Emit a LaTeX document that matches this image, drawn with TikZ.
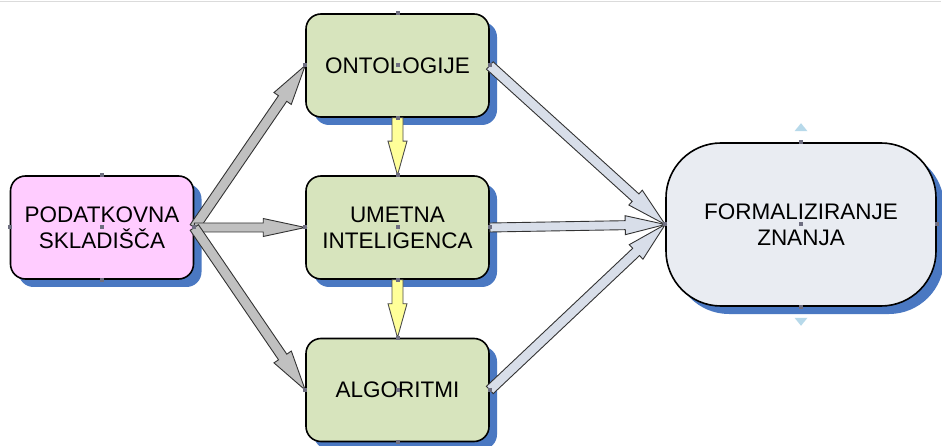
\documentclass[tikz,border=0pt]{standalone}
\usepackage{fontspec}
\setmainfont{Liberation Sans}
\usetikzlibrary{calc,shadows}

\definecolor{shadowblue}{HTML}{4A78C2}
\definecolor{pinkfill}{HTML}{FFCCFF}
\definecolor{greenfill}{HTML}{D7E4BD}
\definecolor{formfill}{HTML}{E9ECF2}
\definecolor{grayarrow}{HTML}{C0C0C0}
\definecolor{yellowarrow}{HTML}{FFFF99}
\definecolor{palearrow}{HTML}{D8DEE9}
\definecolor{handlegray}{HTML}{6E6E80}
\definecolor{tribluefill}{HTML}{B7D9EA}

% block arrow: style, from, to, half shaft width, head length, half head width (all in pt)
\newcommand\blockarrow[6]{%
  \coordinate (ba-base) at ($(#3)!#5pt!(#2)$);
  \path[#1] ($(#2)!#4pt!90:(#3)$) -- ($(ba-base)!#4pt!90:(#3)$)
    -- ($(ba-base)!#6pt!90:(#3)$) -- (#3)
    -- ($(ba-base)!#6pt!-90:(#3)$) -- ($(ba-base)!#4pt!-90:(#3)$)
    -- ($(#2)!#4pt!-90:(#3)$) -- cycle;
}

\tikzset{
  box/.style={rectangle, rounded corners=15pt, draw=black, line width=1.6pt,
    minimum width=183pt, minimum height=103pt, inner sep=0pt, align=center,
    font=\fontsize{22.5}{26}\selectfont,
    drop shadow={shadow xshift=8pt, shadow yshift=-8pt, fill=shadowblue, opacity=1}},
  sourcebox/.style={box, fill=pinkfill},
  topicbox/.style={box, fill=greenfill},
  goalbox/.style={box, fill=formfill, rounded corners=55pt,
    minimum width=270pt, minimum height=163pt},
  grayblock/.style={fill=grayarrow, draw=black!80, line width=0.9pt, line join=miter},
  yellowblock/.style={fill=yellowarrow, draw=black!70, line width=0.9pt, line join=miter},
  paleblock/.style={fill=palearrow, draw=black!80, line width=0.9pt, line join=miter},
  handle/.style={rectangle, fill=handlegray, minimum size=4pt, inner sep=0pt},
  hint/.style={fill=tribluefill},
}

\begin{document}
\begin{tikzpicture}[x=1pt, y=-1pt]
  \useasboundingbox (0,0) rectangle (942,446);
  \draw[black!14, line width=1.5pt] (0,1.5) -- (941,1.5);

  % boxes
  \node[sourcebox] (pod) at (102, 227.5) {PODATKOVNA\\SKLADIŠČA};
  \node[topicbox] (ont) at (397.5, 65.5) {ONTOLOGIJE};
  \node[topicbox] (ume) at (397.5, 227.5) {UMETNA\\INTELIGENCA};
  \node[topicbox] (alg) at (397.5, 390) {ALGORITMI};
  \node[goalbox] (form) at (801, 224.5) {FORMALIZIRANJE\\ZNANJA};

  % gray arrows from the data stores
  \blockarrow{grayblock}{pod.east}{ont.west}{5}{40}{10.5}
  \blockarrow{grayblock}{pod.east}{ume.west}{4.5}{42}{9}
  \blockarrow{grayblock}{pod.east}{alg.west}{5}{40}{10.5}

  % yellow arrows between the middle column
  \blockarrow{yellowblock}{ont.south}{ume.north}{5.5}{34}{9.5}
  \blockarrow{yellowblock}{ume.south}{alg.north}{5.5}{34}{9.5}

  % pale arrows into the goal
  \blockarrow{paleblock}{ont.east}{form.west}{5}{40}{10}
  \blockarrow{paleblock}{ume.east}{form.west}{4.5}{40}{9.5}
  \blockarrow{paleblock}{alg.east}{form.west}{5}{40}{10}

  % connection handles
  \foreach \n in {pod,ont,ume,alg,form}
    \foreach \a in {north,south,east,west,center}
      \node[handle] (h-\n-\a) at (\n.\a) {};

  % resize hints above and below the goal shape
  \fill[hint] ($(form.north)+(-6.5,-11)$) -- ($(form.north)+(6.5,-11)$) -- ($(form.north)+(0,-19)$) -- cycle;
  \fill[hint] ($(form.south)+(-6.5,11)$) -- ($(form.south)+(6.5,11)$) -- ($(form.south)+(0,19)$) -- cycle;
\end{tikzpicture}
\end{document}
